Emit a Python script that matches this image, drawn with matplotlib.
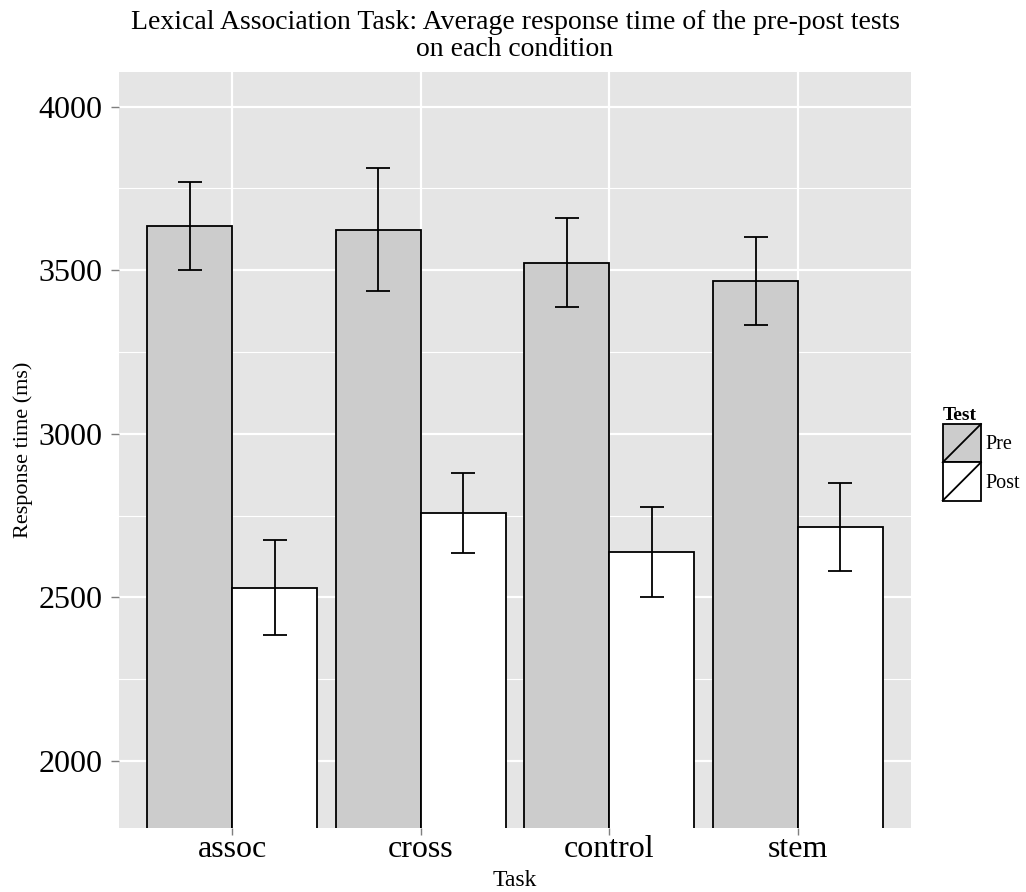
import numpy as np
import matplotlib
matplotlib.use("Agg")
import matplotlib.pyplot as plt
from matplotlib.patches import Rectangle
from matplotlib.lines import Line2D
from matplotlib.legend_handler import HandlerPatch

# mean response time per task, with error bar half-widths
tasks = ["assoc", "cross", "control", "stem"]
tests = ["Pre", "Post"]
pre_mean = [3635, 3624, 3523, 3467]
pre_err = [134, 187, 136, 135]
post_mean = [2530, 2758, 2638, 2716]
post_err = [146, 123, 137, 135]

fills = {"Pre": "#CCCCCC", "Post": "#FFFFFF"}
panel_bg = "#E5E5E5"
tick_grey = "#7F7F7F"

plt.rcParams["font.family"] = ["Liberation Serif", "DejaVu Serif"]


class SlashKey(HandlerPatch):
    # ggplot-style bar key: filled box with a diagonal stroke
    def create_artists(self, legend, orig_handle, xdescent, ydescent,
                       width, height, fontsize, trans):
        box = Rectangle((-xdescent, -ydescent), width, height,
                        facecolor=orig_handle.get_facecolor(),
                        edgecolor="black", linewidth=1.3, transform=trans)
        slash = Line2D([-xdescent, -xdescent + width],
                       [-ydescent, -ydescent + height],
                       color="black", linewidth=1.3, transform=trans)
        return [box, slash]


fig = plt.figure(figsize=(10.26, 8.92), dpi=100)
ax = fig.add_axes([0.116, 0.0717, 0.772, 0.8473])
ax.set_facecolor(panel_bg)
for s in ax.spines.values():
    s.set_visible(False)

x = np.arange(1, len(tasks) + 1)
width = 0.45

ax.set_ylim(1795, 4105)
ax.set_xlim(0.4, 4.6)

# grid: major and minor white lines
ax.set_yticks([2000, 2500, 3000, 3500, 4000])
ax.set_yticks([2250, 2750, 3250, 3750], minor=True)
ax.set_xticks(x)
ax.grid(True, which="major", color="white", linewidth=1.6)
ax.grid(True, which="minor", axis="y", color="white", linewidth=0.8)
ax.set_axisbelow(True)

handles = []
for offset, name, means, errs in [(-width / 2, "Pre", pre_mean, pre_err),
                                  (width / 2, "Post", post_mean, post_err)]:
    bars = ax.bar(x + offset, means, width=width, color=fills[name],
                  edgecolor="black", linewidth=1.3, label=name, zorder=2)
    ax.errorbar(x + offset, means, yerr=errs, fmt="none", ecolor="black",
                elinewidth=1.3, capsize=8.4, capthick=1.3, zorder=3)
    handles.append(bars.patches[0])

ax.set_xticklabels(tasks)
ax.tick_params(axis="both", which="major", color=tick_grey, width=1,
               labelsize=23, labelcolor="black")
ax.tick_params(axis="y", which="major", length=6, pad=6)
ax.tick_params(axis="x", which="major", length=5, pad=0)
ax.tick_params(axis="y", which="minor", length=0)

ax.set_xlabel("Task", fontsize=17, labelpad=4)
ax.set_ylabel("Response time (ms)", fontsize=16, labelpad=4)
ax.set_title("Lexical Association Task: Average response time of the pre-post tests\n"
             "on each condition", fontsize=20, linespacing=1.07, pad=12)

leg = fig.legend(handles, tests, title="Test",
                 handler_map={Rectangle: SlashKey()},
                 loc="upper left", bbox_to_anchor=(0.909, 0.555),
                 frameon=False, fontsize=14.5, title_fontsize=14,
                 handlelength=1.9, handleheight=2.55, labelspacing=0.0,
                 handletextpad=0.2, borderpad=0.0, alignment="left")
leg.get_title().set_fontweight("bold")

fig.savefig("out.png", dpi=100)
